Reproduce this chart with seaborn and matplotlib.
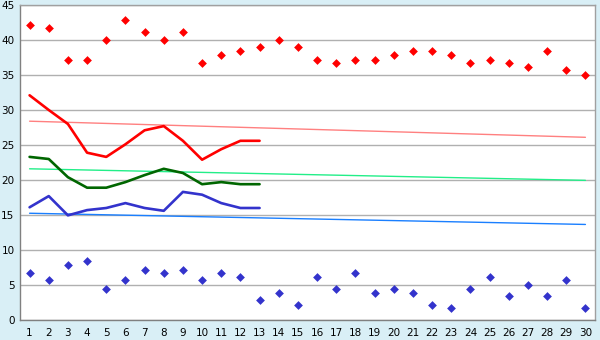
import matplotlib
matplotlib.use("Agg")
import matplotlib.pyplot as plt
import seaborn as sns
import pandas as pd
import numpy as np

days = list(range(1, 31))
high_points = [42.2, 41.7, 37.2, 37.2, 40.0, 42.8, 41.1, 40.0, 41.1, 36.7,
               37.8, 38.4, 39.0, 40.0, 39.0, 37.2, 36.7, 37.2, 37.2, 37.8,
               38.4, 38.4, 37.8, 36.7, 37.2, 36.7, 36.1, 38.4, 35.7, 35.0]
low_points = [6.7, 5.7, 7.8, 8.4, 4.4, 5.7, 7.2, 6.7, 7.2, 5.7,
              6.7, 6.1, 2.8, 3.9, 2.2, 6.1, 4.4, 6.7, 3.9, 4.4,
              3.9, 2.2, 1.7, 4.4, 6.1, 3.4, 5.0, 3.4, 5.7, 1.7]
line_days = list(range(1, 14))
red_line = [32.1, 30.0, 28.0, 23.9, 23.3, 25.1, 27.1, 27.7, 25.6, 22.9, 24.4, 25.6, 25.6]
green_line = [23.3, 23.0, 20.4, 18.9, 18.9, 19.7, 20.7, 21.6, 21.0, 19.4, 19.7, 19.4, 19.4]
blue_line = [16.1, 17.7, 14.95, 15.7, 16.0, 16.7, 16.0, 15.6, 18.3, 17.9, 16.7, 16.0, 16.0]
trend_days = [1, 30]
red_trend = [28.4, 26.1]
green_trend = [21.6, 19.95]
blue_trend = [15.25, 13.65]

sns.set_style("white")
bg = "#d9eff6"
fig = plt.figure(figsize=(6, 3.4), dpi=100, facecolor=bg)
ax = fig.add_axes([20/600, 1-320/340, 575/600, 315/340])
ax.set_facecolor("white")

# trend lines
sns.lineplot(x=trend_days, y=red_trend, color="#ff8080", linewidth=1.0, ax=ax)
sns.lineplot(x=trend_days, y=green_trend, color="#22ee88", linewidth=1.0, ax=ax)
sns.lineplot(x=trend_days, y=blue_trend, color="#1a7fff", linewidth=1.0, ax=ax)

# main lines
sns.lineplot(x=line_days, y=red_line, color="#ff0000", linewidth=1.9, ax=ax)
sns.lineplot(x=line_days, y=green_line, color="#006600", linewidth=1.9, ax=ax)
sns.lineplot(x=line_days, y=blue_line, color="#3333cc", linewidth=1.9, ax=ax)

# points
sns.scatterplot(x=days, y=high_points, color="#ff0000", marker="D", s=20, linewidth=0, ax=ax)
sns.scatterplot(x=days, y=low_points, color="#3333cc", marker="D", s=20, linewidth=0, ax=ax)

ax.set_xlim(0.5, 30.5)
ax.set_ylim(0, 45)
ax.set_yticks(range(0, 46, 5))
ax.set_xticks(days)
ax.set_xticklabels([str(d) for d in days])
ax.grid(axis="y", color="#b0b0b0", linewidth=1.0)
ax.grid(axis="x", visible=False)
ax.set_axisbelow(True)
for s in ["left", "bottom", "top", "right"]:
    ax.spines[s].set_visible(True)
    ax.spines[s].set_color("#a0a0a0")
    ax.spines[s].set_linewidth(1.0)
ax.spines["left"].set_color("#808080")
ax.spines["bottom"].set_color("#808080")
ax.tick_params(axis="x", direction="out", length=4, width=1, labelsize=7.5, pad=2, colors="#000000")
ax.tick_params(axis="y", direction="out", length=3, width=1, labelsize=7.5, pad=1, colors="#000000")
ax.tick_params(axis="both", color="#202020")

fig.savefig("out.png", dpi=100, facecolor=bg)
